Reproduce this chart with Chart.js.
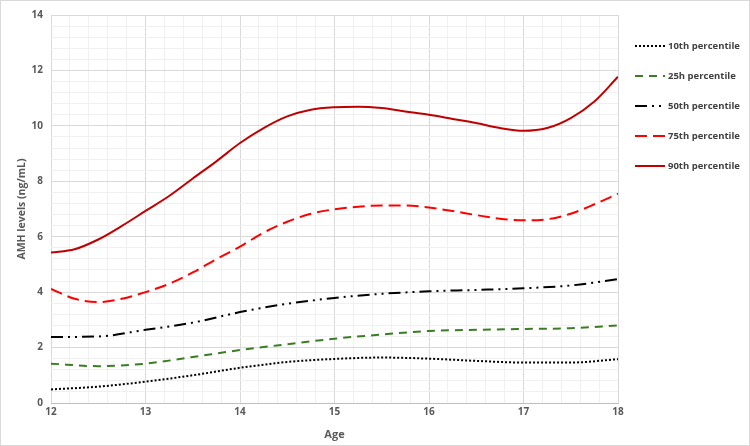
<!DOCTYPE html>
<html>
<head>
<meta charset="utf-8">
<script src="https://cdn.jsdelivr.net/npm/chart.js@4"></script>
<style>
  html, body { margin: 0; padding: 0; background: #fff; }
  #wrap { width: 748px; height: 444px; border: 1px solid #d9d9d9; }
</style>
</head>
<body>
<div id="wrap"><canvas id="amh" width="748" height="444"></canvas></div>
<script>
// ages (half-year and quarter-year steps) and percentile values
var agesHalf = [12, 12.5, 13, 13.5, 14, 14.5, 15, 15.5, 16, 16.5, 17, 17.5, 18];
var agesQuarter = [12, 12.25, 12.5, 12.75, 13, 13.25, 13.5, 13.75, 14, 14.25, 14.5, 14.75, 15,
                   15.25, 15.5, 15.75, 16, 16.25, 16.5, 16.75, 17, 17.25, 17.5, 17.75, 18];
var p10 = [0.49, 0.59, 0.77, 1.00, 1.27, 1.48, 1.59, 1.64, 1.60, 1.52, 1.46, 1.46, 1.58];
var p25 = [1.42, 1.33, 1.42, 1.66, 1.91, 2.12, 2.32, 2.47, 2.60, 2.64, 2.67, 2.70, 2.80];
var p50 = [2.38, 2.40, 2.64, 2.90, 3.28, 3.58, 3.79, 3.94, 4.03, 4.08, 4.14, 4.24, 4.47];
var p75 = [4.12, 3.76, 3.64, 3.76, 4.00, 4.30, 4.71, 5.19, 5.64, 6.15, 6.54, 6.83, 6.99,
           7.08, 7.13, 7.13, 7.05, 6.93, 6.78, 6.65, 6.59, 6.63, 6.83, 7.17, 7.55];
var p90 = [5.43, 5.55, 5.90, 6.39, 6.93, 7.47, 8.10, 8.72, 9.38, 9.92, 10.34, 10.58, 10.67,
           10.69, 10.64, 10.52, 10.40, 10.25, 10.10, 9.92, 9.82, 9.92, 10.28, 10.88, 11.77];
var labels = ['10th percentile', '25h percentile', '50th percentile', '75th percentile', '90th percentile'];

function pts(xs, vals) {
  return xs.map(function (a, i) { return { x: a, y: vals[i] }; });
}

var FONT = '"Open Sans", "Liberation Sans", sans-serif';
var TXT = '#595959';

function series(label, xs, vals, color, dash) {
  return {
    label: label,
    data: pts(xs, vals),
    borderColor: color,
    backgroundColor: color,
    borderWidth: 2,
    borderDash: dash,
    pointRadius: 0,
    fill: false,
    cubicInterpolationMode: 'monotone'
  };
}

var legendPlugin = {
  id: 'sideLegend',
  afterDraw: function (chart) {
    var ctx = chart.ctx;
    var area = chart.chartArea;
    ctx.save();
    ctx.font = 'bold 9.5px ' + FONT;
    ctx.textBaseline = 'middle';
    chart.data.datasets.forEach(function (ds, i) {
      var y = area.top + 31 + i * 30;
      var x0 = area.right + 17;
      ctx.beginPath();
      ctx.strokeStyle = ds.borderColor;
      ctx.lineWidth = 2;
      ctx.setLineDash(ds.borderDash || []);
      ctx.moveTo(x0, y);
      ctx.lineTo(x0 + 30, y);
      ctx.stroke();
      ctx.setLineDash([]);
      ctx.fillStyle = '#404040';
      ctx.fillText(ds.label, x0 + 33, y);
    });
    ctx.restore();
  }
};

function isMult(v, m) {
  return Math.abs(v / m - Math.round(v / m)) < 1e-6;
}

var ctx = document.getElementById('amh');
var amhChart = new Chart(ctx, {
  type: 'line',
  data: {
    datasets: [
      series(labels[0], agesHalf, p10, '#000000', [2, 2]),
      series(labels[1], agesHalf, p25, '#3a7d22', [8, 6]),
      series(labels[2], agesHalf, p50, '#000000', [12, 5, 2, 5, 2, 5]),
      series(labels[3], agesQuarter, p75, '#ff0000', [12, 6]),
      series(labels[4], agesQuarter, p90, '#c00000', [])
    ]
  },
  plugins: [legendPlugin],
  options: {
    responsive: false,
    animation: false,
    layout: { padding: { top: 12, right: 131, bottom: 4, left: 15 } },
    plugins: {
      legend: { display: false },
      tooltip: { enabled: false }
    },
    scales: {
      x: {
        type: 'linear',
        min: 12,
        max: 18,
        ticks: {
          stepSize: 0.2,
          autoSkip: false,
          maxRotation: 0,
          color: TXT,
          font: { family: FONT, size: 10, weight: 'bold' },
          callback: function (v) { return isMult(v, 1) ? Math.round(v) : ''; }
        },
        grid: {
          drawTicks: false,
          color: function (c) { return isMult(c.tick.value, 1) ? '#d9d9d9' : '#f0f0f0'; }
        },
        border: { color: '#bfbfbf' },
        title: {
          display: true,
          text: 'Age',
          color: TXT,
          font: { family: FONT, size: 11, weight: 'bold' },
          padding: { top: 4, bottom: 0 }
        },
        afterFit: function (s) { s.height = 38; }
      },
      y: {
        min: 0,
        max: 14,
        ticks: {
          stepSize: 0.4,
          autoSkip: false,
          padding: 8,
          color: TXT,
          font: { family: FONT, size: 10, weight: 'bold' },
          callback: function (v) { return isMult(v, 2) ? Math.round(v) : ''; }
        },
        grid: {
          drawTicks: false,
          color: function (c) { return isMult(c.tick.value, 2) ? '#d9d9d9' : '#f0f0f0'; }
        },
        border: { display: false },
        title: {
          display: true,
          text: 'AMH levels (ng/mL)',
          color: TXT,
          font: { family: FONT, size: 10.5, weight: 'bold' },
          padding: { top: 0, bottom: 4 }
        },
        afterFit: function (s) { s.width = 35; }
      }
    }
  }
});
</script>
</body>
</html>
